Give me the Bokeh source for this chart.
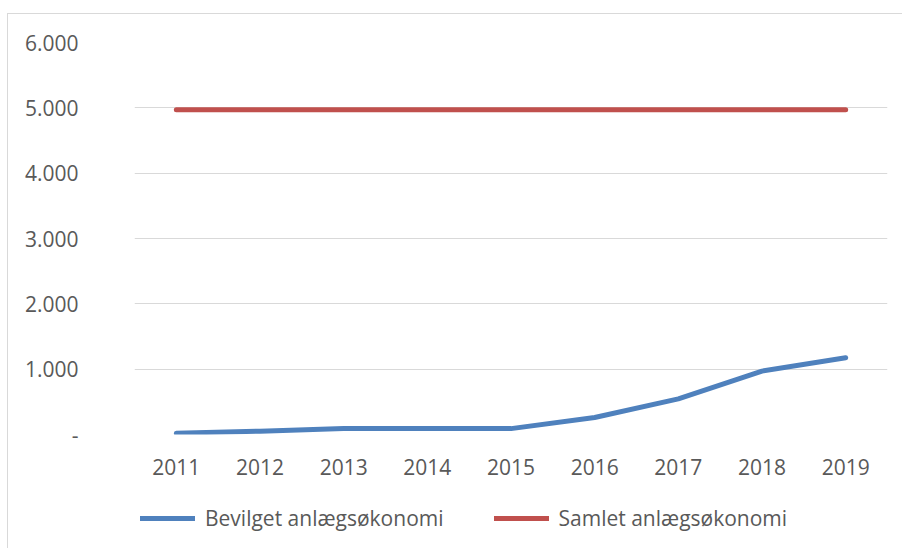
from bokeh.plotting import figure
from bokeh.models import FactorRange, Range1d, FixedTicker, Legend, LegendItem
from bokeh.layouts import column
from bokeh.embed import file_html
from bokeh.resources import INLINE

years = ["2011", "2012", "2013", "2014", "2015", "2016", "2017", "2018", "2019"]
bevilget = [20, 50, 90, 90, 90, 260, 545, 970, 1175]
samlet = [4970, 4970, 4970, 4970, 4970, 4970, 4970, 4970, 4970]
y_ticks = [0, 1000, 2000, 3000, 4000, 5000, 6000]
y_tick_labels = ["-", "1.000", "2.000", "3.000", "4.000", "5.000", "6.000"]
series_names = ["Bevilget anlægsøkonomi", "Samlet anlægsøkonomi"]
series_colors = ["#4f81bd", "#c0504d"]
series_values = [bevilget, samlet]

FONT = "Open Sans"
FSIZE = "21px"
TXT = "#595959"
GRID = "#d9d9d9"

# main chart
p = figure(
    x_range=FactorRange(*years),
    y_range=Range1d(0, 6000),
    width=895, height=482,
    output_backend="svg", toolbar_location=None,
    min_border_left=126, min_border_right=16,
    min_border_top=28, min_border_bottom=62,
)
p.styles = {"border-top": f"1px solid {GRID}", "border-left": f"1px solid {GRID}",
            "margin-left": "7px", "margin-top": "13px"}
p.outline_line_color = None
p.background_fill_color = "white"
p.border_fill_color = "white"

p.xgrid.grid_line_color = None
p.ygrid.grid_line_color = GRID
p.ygrid.grid_line_width = 1
p.yaxis.ticker = FixedTicker(ticks=y_ticks)
p.yaxis.major_label_overrides = {t: l for t, l in zip(y_ticks, y_tick_labels)}

for ax in (p.xaxis[0], p.yaxis[0]):
    ax.axis_line_color = None
    ax.major_tick_line_color = None
    ax.minor_tick_line_color = None
    ax.major_label_text_font = FONT
    ax.major_label_text_font_size = FSIZE
    ax.major_label_text_color = TXT
p.yaxis.major_label_standoff = 50
p.xaxis.major_label_standoff = 18

for vals, col in zip(series_values, series_colors):
    p.line(years, vals, line_color=col, line_width=5,
           line_join="round", line_cap="round")

# legend strip below the chart (its frame is aligned with the chart's frame)
q = figure(
    x_range=FactorRange(*years), y_range=Range1d(0, 6000),
    width=895, height=53,
    output_backend="svg", toolbar_location=None,
    x_axis_location=None, y_axis_location=None,
    min_border_left=0, min_border_right=0, min_border_top=0, min_border_bottom=0,
)
q.styles = {"border-left": f"1px solid {GRID}", "margin-left": "7px"}
q.outline_line_color = None
q.grid.grid_line_color = None
q.background_fill_color = "white"
q.border_fill_color = "white"

items = []
for name, col, vals in zip(series_names, series_colors, series_values):
    r = q.line(years, vals, line_color=col, line_width=5, line_cap="round")
    r.visible = False
    items.append(LegendItem(label=name, renderers=[r]))

lg = Legend(items=items, location=(6, 16), orientation="horizontal",
            glyph_width=55, glyph_height=28, label_height=28,
            label_standoff=10, padding=0, margin=0, spacing=50,
            border_line_color=None, background_fill_alpha=0,
            inactive_fill_alpha=0,
            label_text_font=FONT, label_text_font_size=FSIZE,
            label_text_color=TXT)
q.add_layout(lg, "center")

layout = column(p, q, spacing=0)
open("out.html", "w").write(file_html(layout, INLINE))
